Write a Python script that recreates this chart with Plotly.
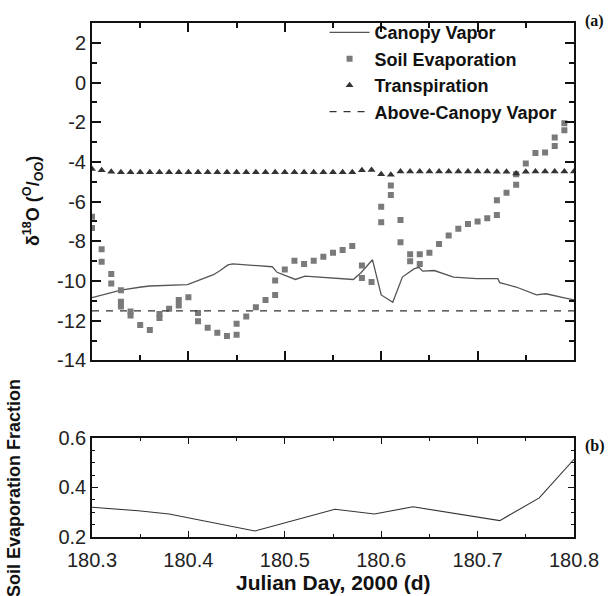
import plotly.graph_objects as go

# ---------------- data ----------------
canopy_x = [180.300, 180.330, 180.351, 180.360, 180.399, 180.406, 180.416, 180.426, 180.433,
            180.441, 180.446, 180.460, 180.487, 180.492, 180.511, 180.521, 180.555, 180.571,
            180.579, 180.591, 180.600, 180.612, 180.622, 180.634, 180.639, 180.643, 180.655,
            180.675, 180.699, 180.721, 180.723, 180.740, 180.761, 180.771, 180.790, 180.800]
canopy_y = [-10.84, -10.46, -10.30, -10.25, -10.18, -10.05, -9.85, -9.68, -9.47,
            -9.19, -9.14, -9.20, -9.28, -9.56, -9.92, -9.75, -9.85, -9.92,
            -9.58, -8.93, -10.70, -11.07, -9.80, -9.39, -9.31, -9.50, -9.47,
            -9.80, -9.88, -9.88, -10.08, -10.30, -10.70, -10.64, -10.85, -10.95]

soil_x = [180.30, 180.30, 180.31, 180.31, 180.32, 180.32, 180.33, 180.33, 180.33,
          180.34, 180.34, 180.35, 180.36, 180.37, 180.37, 180.38, 180.39, 180.39,
          180.40, 180.41, 180.41, 180.42, 180.43, 180.44, 180.45, 180.45, 180.46,
          180.47, 180.48, 180.49, 180.49, 180.50, 180.51, 180.52, 180.53, 180.54,
          180.55, 180.56, 180.57, 180.58, 180.58, 180.59, 180.60, 180.60, 180.61,
          180.61, 180.62, 180.62, 180.63, 180.63, 180.64, 180.64, 180.65, 180.66,
          180.67, 180.68, 180.69, 180.70, 180.71, 180.72, 180.72, 180.73, 180.74,
          180.74, 180.75, 180.76, 180.77, 180.78, 180.78, 180.79, 180.79]
soil_y = [-6.76, -7.33, -8.40, -9.03, -9.64, -10.13, -10.46, -11.04, -11.28,
          -11.53, -11.74, -12.22, -12.47, -11.66, -11.86, -11.40, -10.95, -11.23,
          -10.82, -11.61, -12.02, -12.35, -12.60, -12.77, -12.15, -12.70, -11.78,
          -11.32, -10.95, -10.70, -9.97, -9.42, -8.98, -9.14, -8.98, -8.77,
          -8.57, -8.43, -8.24, -9.22, -9.85, -10.05, -6.26, -7.04, -5.19,
          -5.66, -6.92, -8.04, -8.65, -9.00, -8.65, -9.14, -8.58, -8.14,
          -7.71, -7.37, -7.12, -7.00, -6.84, -6.67, -5.93, -5.55, -5.15,
          -4.62, -4.08, -3.55, -3.52, -3.20, -2.77, -2.40, -2.05]

transp_x = [round(180.30 + 0.01 * i, 2) for i in range(51)]
transp_y = [-4.35, -4.42, -4.50, -4.52, -4.52, -4.52, -4.52, -4.52, -4.52, -4.52,
            -4.52, -4.52, -4.52, -4.52, -4.52, -4.52, -4.52, -4.52, -4.52, -4.52,
            -4.52, -4.52, -4.52, -4.52, -4.52, -4.52, -4.52, -4.52, -4.42, -4.40,
            -4.62, -4.65, -4.48, -4.48, -4.48, -4.48, -4.48, -4.48, -4.48, -4.48,
            -4.48, -4.48, -4.50, -4.50, -4.58, -4.50, -4.48, -4.48, -4.48, -4.48,
            -4.48]

above_x = [180.30, 180.80]
above_y = [-11.50, -11.50]

sef_x = [180.300, 180.348, 180.380, 180.469, 180.552, 180.593, 180.633, 180.723, 180.764, 180.800]
sef_y = [0.320, 0.306, 0.293, 0.224, 0.312, 0.293, 0.322, 0.266, 0.358, 0.514]

top_ticks = [-14, -12, -10, -8, -6, -4, -2, 0, 2]
top_ticktext = ["-14", "-12", "-10", "-8", "-6", "-4", "-2", "0", "2"]
bot_ticks = [0.2, 0.4, 0.6]
bot_ticktext = ["0.2", "0.4", "0.6"]
x_ticks = [180.3, 180.4, 180.5, 180.6, 180.7, 180.8]
x_ticktext = ["180.3", "180.4", "180.5", "180.6", "180.7", "180.8"]

# ---------------- figure ----------------
fig = go.Figure()

fig.add_trace(go.Scatter(x=canopy_x, y=canopy_y, mode="lines", name="Canopy Vapor",
                         line=dict(color="#555555", width=1.3), xaxis="x", yaxis="y"))
fig.add_trace(go.Scatter(x=soil_x, y=soil_y, mode="markers", name="Soil Evaporation",
                         marker=dict(symbol="square", size=6, color="#7a7a7a"),
                         xaxis="x", yaxis="y"))
fig.add_trace(go.Scatter(x=transp_x, y=transp_y, mode="markers", name="Transpiration",
                         marker=dict(symbol="triangle-up", size=7, color="#333333"),
                         xaxis="x", yaxis="y"))
fig.add_trace(go.Scatter(x=above_x, y=above_y, mode="lines", name="Above-Canopy Vapor",
                         line=dict(color="#333333", width=1.3, dash="7px,7px"),
                         xaxis="x", yaxis="y"))
fig.add_trace(go.Scatter(x=sef_x, y=sef_y, mode="lines", showlegend=False,
                         line=dict(color="#333333", width=1.1), xaxis="x2", yaxis="y2"))

FONT = "Liberation Sans, Arial"
tickfont = dict(family=FONT, size=20, color="#222222")
axis_common = dict(showline=True, linecolor="#111111", mirror="ticks", ticks="inside",
                   tickcolor="#111111", showgrid=False, zeroline=False, tickfont=tickfont)

fig.update_layout(
    width=611, height=596,
    margin=dict(l=92, r=32, t=13, b=59),
    paper_bgcolor="white", plot_bgcolor="white",
    showlegend=True,
    legend=dict(x=0.4825, y=1.017, xanchor="left", yanchor="top",
                font=dict(family=FONT, size=18, color="#111111", weight="bold"),
                bgcolor="rgba(0,0,0,0)", tracegroupgap=0, itemwidth=40),
    xaxis=dict(domain=[0, 1], range=[180.3, 180.8], anchor="y", tickvals=x_ticks,
               showticklabels=False, ticklen=9, tickwidth=1.5, linewidth=2,
               minor=dict(ticks="inside", dtick=0.05, tick0=180.3, ticklen=5, tickcolor="#111111"),
               **axis_common),
    yaxis=dict(domain=[0.3435, 1], range=[-14, 3], anchor="x", tickvals=top_ticks,
               ticktext=top_ticktext, ticklen=9, tickwidth=1.5, linewidth=2,
               minor=dict(ticks="inside", dtick=1, tick0=0, ticklen=5, tickcolor="#111111"),
               **axis_common),
    xaxis2=dict(domain=[0, 1], range=[180.3, 180.8], anchor="y2", tickvals=x_ticks,
                ticktext=x_ticktext, ticklen=6, tickwidth=1, linewidth=1.5,
                ticklabelstandoff=4,
                minor=dict(ticks="inside", dtick=0.05, tick0=180.3, ticklen=3, tickcolor="#111111"),
                **axis_common),
    yaxis2=dict(domain=[0, 0.1927], range=[0.2, 0.6], anchor="x2", tickvals=bot_ticks,
                ticktext=bot_ticktext, ticklen=6, tickwidth=1, linewidth=1.5,
                minor=dict(ticks="inside", dtick=0.05, tick0=0.2, ticklen=3, tickcolor="#111111"),
                **axis_common),
    annotations=[
        dict(text="<b>δ<sup>18</sup>O (<sup>O</sup>/<sub>OO</sub>)</b>", textangle=-90,
             xref="paper", yref="paper", x=-0.123, y=0.653, xanchor="center", yanchor="middle",
             showarrow=False, font=dict(family=FONT, size=18, color="#111111")),
        dict(text="<b>Soil Evaporation Fraction</b>", textangle=-90,
             xref="paper", yref="paper", x=-0.162, y=0.095, xanchor="center", yanchor="middle",
             showarrow=False, font=dict(family=FONT, size=18, color="#111111")),
        dict(text="<b>Julian Day, 2000 (d)</b>", xref="paper", yref="paper",
             x=0.5, y=-0.088, xanchor="center", yanchor="middle", showarrow=False,
             font=dict(family=FONT, size=21, color="#111111")),
        dict(text="<b>(a)</b>", xref="paper", yref="paper", x=1.043, y=1.003,
             xanchor="center", yanchor="middle", showarrow=False,
             font=dict(family="Liberation Serif, Times New Roman", size=16, color="#111111")),
        dict(text="<b>(b)</b>", xref="paper", yref="paper", x=1.043, y=0.177,
             xanchor="center", yanchor="middle", showarrow=False,
             font=dict(family="Liberation Serif, Times New Roman", size=16, color="#111111")),
    ],
)

fig.write_html("out.html")
